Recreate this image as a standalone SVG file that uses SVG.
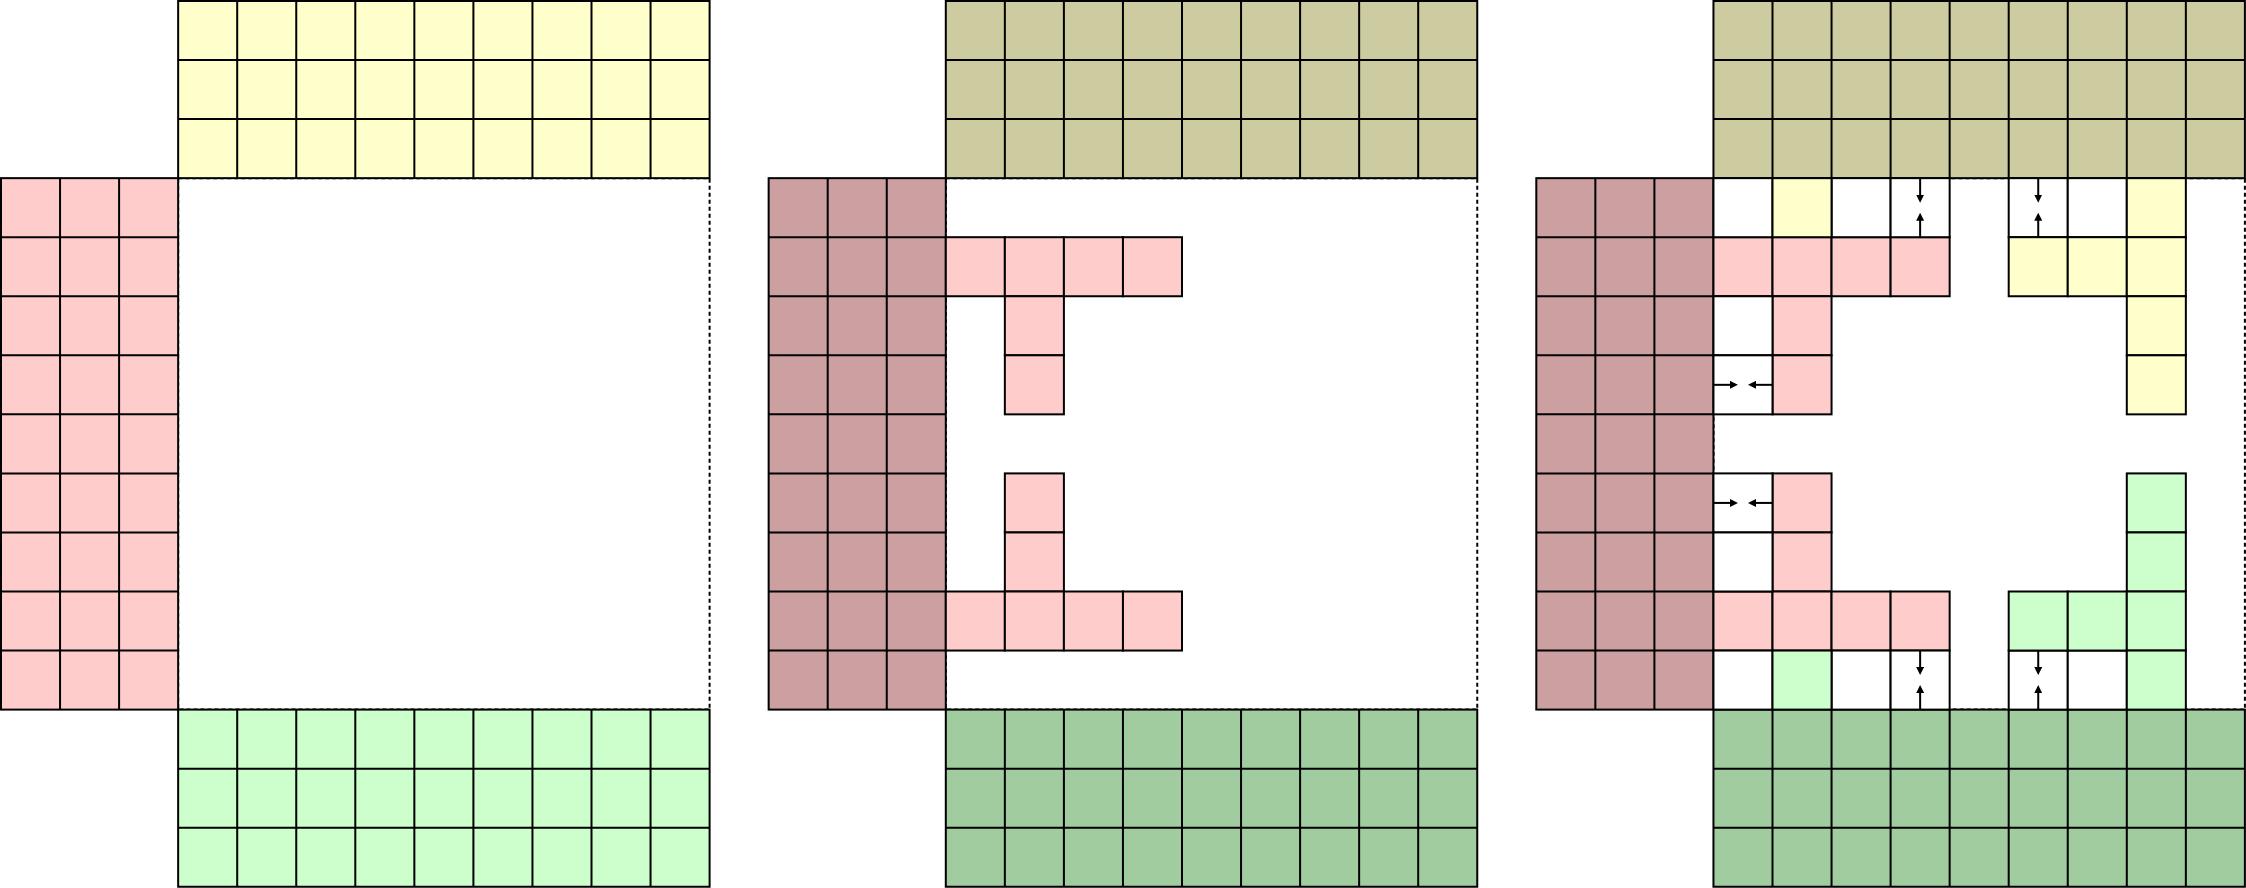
<svg xmlns="http://www.w3.org/2000/svg" xmlns:xlink="http://www.w3.org/1999/xlink" width="2246" height="888" viewBox="0 0 2246 888">
<style>
.b{stroke:#000;stroke-width:2}
.g{fill:none;stroke:#000;stroke-width:2}
.center{fill:#fff;stroke:#000;stroke-width:2;stroke-dasharray:4 3}
.arr{fill:none;stroke:#000;stroke-width:2;marker-end:url(#ah)}
.y1{fill:#ffffcc}.p1{fill:#ffcccc}.gr1{fill:#ccffcc}
.y2{fill:#cccca0}.p2{fill:#cc9fa0}.gr2{fill:#a0cca0}
.w{fill:#fff}
</style>
<defs>
<marker id="ah" viewBox="0 0 8 8" refX="4" refY="4" markerWidth="8" markerHeight="8" markerUnits="userSpaceOnUse" orient="auto"><path d="M0,0 L8,4 L0,8 z" fill="#000"/></marker>
<rect id="cell" width="59.05" height="59.05" stroke="#000" stroke-width="2"/>
<g id="topB"><rect class="b" x="177.15" y="0" width="531.45" height="177.15"/><path class="g" d="M236.2 0V177.15M295.25 0V177.15M354.3 0V177.15M413.35 0V177.15M472.4 0V177.15M531.45 0V177.15M590.5 0V177.15M649.55 0V177.15M177.15 59.05H708.6M177.15 118.1H708.6"/></g>
<g id="leftB"><rect class="b" x="0" y="177.15" width="177.15" height="531.45"/><path class="g" d="M59.05 177.15V708.6M118.1 177.15V708.6M0 236.2H177.15M0 295.25H177.15M0 354.3H177.15M0 413.35H177.15M0 472.4H177.15M0 531.45H177.15M0 590.5H177.15M0 649.55H177.15"/></g>
<g id="botB"><rect class="b" x="177.15" y="708.6" width="531.45" height="177.15"/><path class="g" d="M236.2 708.6V885.75M295.25 708.6V885.75M354.3 708.6V885.75M413.35 708.6V885.75M472.4 708.6V885.75M531.45 708.6V885.75M590.5 708.6V885.75M649.55 708.6V885.75M177.15 767.65H708.6M177.15 826.7H708.6"/></g>
<g id="pinkArms">
<use xlink:href="#cell" x="177.15" y="236.2"/><use xlink:href="#cell" x="236.2" y="236.2"/><use xlink:href="#cell" x="295.25" y="236.2"/><use xlink:href="#cell" x="354.3" y="236.2"/>
<use xlink:href="#cell" x="236.2" y="295.25"/><use xlink:href="#cell" x="236.2" y="354.3"/>
<use xlink:href="#cell" x="236.2" y="472.4"/><use xlink:href="#cell" x="236.2" y="531.45"/>
<use xlink:href="#cell" x="177.15" y="590.5"/><use xlink:href="#cell" x="236.2" y="590.5"/><use xlink:href="#cell" x="295.25" y="590.5"/><use xlink:href="#cell" x="354.3" y="590.5"/>
</g>
</defs>

<g id="panel1" transform="translate(1,1)">
<rect id="p1-center" class="center" x="177.15" y="177.15" width="531.45" height="531.45"/>
<use id="p1-top" xlink:href="#topB" class="y1"/>
<use id="p1-left" xlink:href="#leftB" class="p1"/>
<use id="p1-bottom" xlink:href="#botB" class="gr1"/>
</g>

<g id="panel2" transform="translate(768.65,1)">
<rect id="p2-center" class="center" x="177.15" y="177.15" width="531.45" height="531.45"/>
<use id="p2-top" xlink:href="#topB" class="y2"/>
<use id="p2-left" xlink:href="#leftB" class="p2"/>
<use id="p2-bottom" xlink:href="#botB" class="gr2"/>
<use id="p2-pink" xlink:href="#pinkArms" class="p1"/>
</g>

<g id="panel3" transform="translate(1536.3,1)">
<rect id="p3-center" class="center" x="177.15" y="177.15" width="531.45" height="531.45"/>
<use id="p3-top" xlink:href="#topB" class="y2"/>
<use id="p3-left" xlink:href="#leftB" class="p2"/>
<use id="p3-bottom" xlink:href="#botB" class="gr2"/>
<use id="p3-pink" xlink:href="#pinkArms" class="p1"/>
<g id="p3-white" class="w">
<use xlink:href="#cell" x="177.15" y="177.15"/><use xlink:href="#cell" x="295.25" y="177.15"/><use xlink:href="#cell" x="354.3" y="177.15"/><use xlink:href="#cell" x="472.4" y="177.15"/><use xlink:href="#cell" x="531.45" y="177.15"/>
<use xlink:href="#cell" x="177.15" y="295.25"/><use xlink:href="#cell" x="177.15" y="354.3"/>
<use xlink:href="#cell" x="177.15" y="472.4"/><use xlink:href="#cell" x="177.15" y="531.45"/>
<use xlink:href="#cell" x="177.15" y="649.55"/><use xlink:href="#cell" x="295.25" y="649.55"/><use xlink:href="#cell" x="354.3" y="649.55"/><use xlink:href="#cell" x="472.4" y="649.55"/><use xlink:href="#cell" x="531.45" y="649.55"/>
</g>
<g id="p3-yellow" class="y1">
<use xlink:href="#cell" x="236.2" y="177.15"/><use xlink:href="#cell" x="590.5" y="177.15"/>
<use xlink:href="#cell" x="472.4" y="236.2"/><use xlink:href="#cell" x="531.45" y="236.2"/><use xlink:href="#cell" x="590.5" y="236.2"/>
<use xlink:href="#cell" x="590.5" y="295.25"/><use xlink:href="#cell" x="590.5" y="354.3"/>
</g>
<g id="p3-green" class="gr1">
<use xlink:href="#cell" x="590.5" y="472.4"/><use xlink:href="#cell" x="590.5" y="531.45"/>
<use xlink:href="#cell" x="472.4" y="590.5"/><use xlink:href="#cell" x="531.45" y="590.5"/><use xlink:href="#cell" x="590.5" y="590.5"/>
<use xlink:href="#cell" x="236.2" y="649.55"/><use xlink:href="#cell" x="590.5" y="649.55"/>
</g>
<g id="connectors">
<path class="arr" d="M383.83 177.15V197.65"/><path class="arr" d="M383.83 236.2V215.7"/>
<path class="arr" d="M501.93 177.15V197.65"/><path class="arr" d="M501.93 236.2V215.7"/>
<path class="arr" d="M383.83 649.55V670.05"/><path class="arr" d="M383.83 708.6V688.1"/>
<path class="arr" d="M501.93 649.55V670.05"/><path class="arr" d="M501.93 708.6V688.1"/>
<path class="arr" d="M177.15 383.83H197.65"/><path class="arr" d="M236.2 383.83H215.7"/>
<path class="arr" d="M177.15 501.93H197.65"/><path class="arr" d="M236.2 501.93H215.7"/>
</g>
</g>
</svg>
